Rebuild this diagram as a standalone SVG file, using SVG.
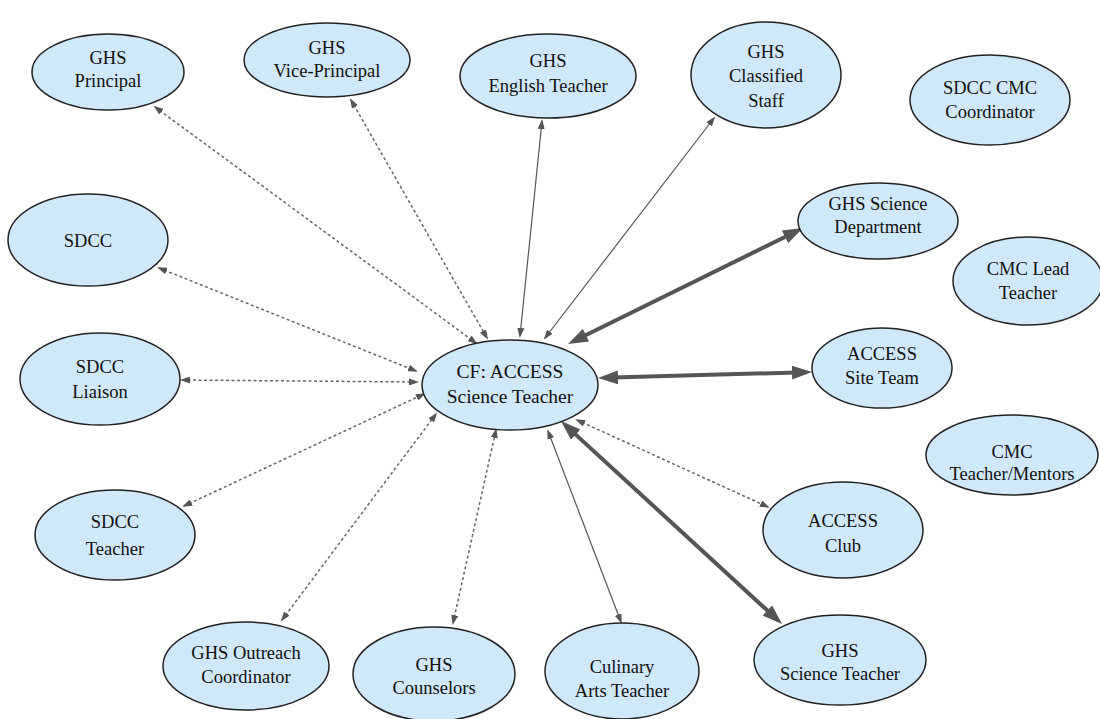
<svg xmlns="http://www.w3.org/2000/svg" width="1100" height="719" viewBox="0 0 1100 719">
  <style>
    .node ellipse { fill: #cfe8fa; stroke: #222; stroke-width: 1.5; }
    .node text { font-size: 18.5px; fill: #111; text-anchor: middle; }
    .dot { stroke: #666; stroke-width: 1.5; stroke-dasharray: 3 2.5; fill: none; marker-start: url(#hs); marker-end: url(#hs); }
    .thin { stroke: #555; stroke-width: 1.2; fill: none; marker-start: url(#hs); marker-end: url(#hs); }
    .thick { stroke: #555; stroke-width: 4; fill: none; marker-start: url(#hb); marker-end: url(#hb); }
  </style>
  <defs>
    <marker id="hs" viewBox="0 0 10 7" markerWidth="10" markerHeight="7" refX="8" refY="3.5" orient="auto-start-reverse" markerUnits="userSpaceOnUse">
      <path d="M0,0 L10,3.5 L0,7 z" fill="#555"/>
    </marker>
    <marker id="hb" viewBox="0 0 20 14" markerWidth="20" markerHeight="14" refX="14" refY="7" orient="auto-start-reverse" markerUnits="userSpaceOnUse">
      <path d="M0,0 L20,7 L0,14 z" fill="#555"/>
    </marker>
  </defs>

  <rect width="1100" height="719" fill="#fff"/>

  <g id="connectors">
    <line class="dot" x1="155" y1="107" x2="476" y2="343"/>
    <line class="dot" x1="351" y1="100" x2="487" y2="338"/>
    <line class="thin" x1="542" y1="121" x2="520" y2="336"/>
    <line class="thin" x1="714" y1="118" x2="545" y2="338"/>
    <line class="thick" x1="573.4" y1="341.3" x2="797.6" y2="230.7"/>
    <line class="dot" x1="159" y1="268" x2="416" y2="371"/>
    <line class="dot" x1="182" y1="380" x2="417" y2="382"/>
    <line class="dot" x1="184" y1="506" x2="424" y2="394"/>
    <line class="dot" x1="282" y1="620" x2="436" y2="414"/>
    <line class="dot" x1="453" y1="623" x2="496" y2="430"/>
    <line class="thin" x1="621" y1="622" x2="548" y2="431"/>
    <line class="thick" x1="565.4" y1="425.1" x2="777.6" y2="619.9"/>
    <line class="dot" x1="577" y1="420" x2="768" y2="507"/>
    <line class="thick" x1="604" y1="377.8" x2="806" y2="372.2"/>
  </g>

  <g font-family="'Liberation Serif', Tinos, 'Times New Roman', 'DejaVu Serif', serif">
  <g id="n-principal" class="node">
    <ellipse cx="108" cy="72" rx="76" ry="38"/>
    <text x="108" y="64">GHS</text>
    <text x="108" y="87">Principal</text>
  </g>
  <g id="n-vice" class="node">
    <ellipse cx="327" cy="60" rx="83" ry="37"/>
    <text x="327" y="54">GHS</text>
    <text x="327" y="77">Vice-Principal</text>
  </g>
  <g id="n-english" class="node">
    <ellipse cx="548" cy="76" rx="88" ry="42"/>
    <text x="548" y="67">GHS</text>
    <text x="548" y="92">English Teacher</text>
  </g>
  <g id="n-classified" class="node">
    <ellipse cx="766" cy="75" rx="75" ry="53"/>
    <text x="766" y="58">GHS</text>
    <text x="766" y="82">Classified</text>
    <text x="766" y="107">Staff</text>
  </g>
  <g id="n-cmc-coord" class="node">
    <ellipse cx="990" cy="100" rx="80" ry="45"/>
    <text x="990" y="94">SDCC CMC</text>
    <text x="990" y="118">Coordinator</text>
  </g>
  <g id="n-sci-dept" class="node">
    <ellipse cx="878" cy="221" rx="80" ry="38"/>
    <text x="878" y="210">GHS Science</text>
    <text x="878" y="233">Department</text>
  </g>
  <g id="n-cmc-lead" class="node">
    <ellipse cx="1028" cy="281" rx="75" ry="44"/>
    <text x="1028" y="275">CMC Lead</text>
    <text x="1028" y="299">Teacher</text>
  </g>
  <g id="n-site-team" class="node">
    <ellipse cx="882" cy="368" rx="70" ry="40"/>
    <text x="882" y="360">ACCESS</text>
    <text x="882" y="384">Site Team</text>
  </g>
  <g id="n-cmc-mentors" class="node">
    <ellipse cx="1012" cy="455" rx="86" ry="40"/>
    <text x="1012" y="458">CMC</text>
    <text x="1012" y="480">Teacher/Mentors</text>
  </g>
  <g id="n-club" class="node">
    <ellipse cx="843" cy="530" rx="80" ry="48"/>
    <text x="843" y="527">ACCESS</text>
    <text x="843" y="552">Club</text>
  </g>
  <g id="n-sci-teacher" class="node">
    <ellipse cx="840" cy="660" rx="86" ry="45"/>
    <text x="840" y="657">GHS</text>
    <text x="840" y="680">Science Teacher</text>
  </g>
  <g id="n-culinary" class="node">
    <ellipse cx="622" cy="671" rx="77" ry="48"/>
    <text x="622" y="673">Culinary</text>
    <text x="622" y="697">Arts Teacher</text>
  </g>
  <g id="n-counselors" class="node">
    <ellipse cx="434" cy="674" rx="81" ry="47"/>
    <text x="434" y="671">GHS</text>
    <text x="434" y="694">Counselors</text>
  </g>
  <g id="n-outreach" class="node">
    <ellipse cx="246" cy="666" rx="83" ry="44"/>
    <text x="246" y="659">GHS Outreach</text>
    <text x="246" y="683">Coordinator</text>
  </g>
  <g id="n-sdcc-teacher" class="node">
    <ellipse cx="115" cy="535" rx="80" ry="45"/>
    <text x="115" y="528">SDCC</text>
    <text x="115" y="555">Teacher</text>
  </g>
  <g id="n-sdcc-liaison" class="node">
    <ellipse cx="100" cy="379" rx="80" ry="46"/>
    <text x="100" y="373">SDCC</text>
    <text x="100" y="398">Liaison</text>
  </g>
  <g id="n-sdcc" class="node">
    <ellipse cx="88" cy="240" rx="80" ry="46"/>
    <text x="88" y="247">SDCC</text>
  </g>
  <g id="n-center" class="node">
    <ellipse cx="510" cy="385" rx="88" ry="45"/>
    <text x="510" y="378" style="font-size:19.5px">CF: ACCESS</text>
    <text x="510" y="403" style="font-size:19.5px">Science Teacher</text>
  </g>
  </g>
</svg>
